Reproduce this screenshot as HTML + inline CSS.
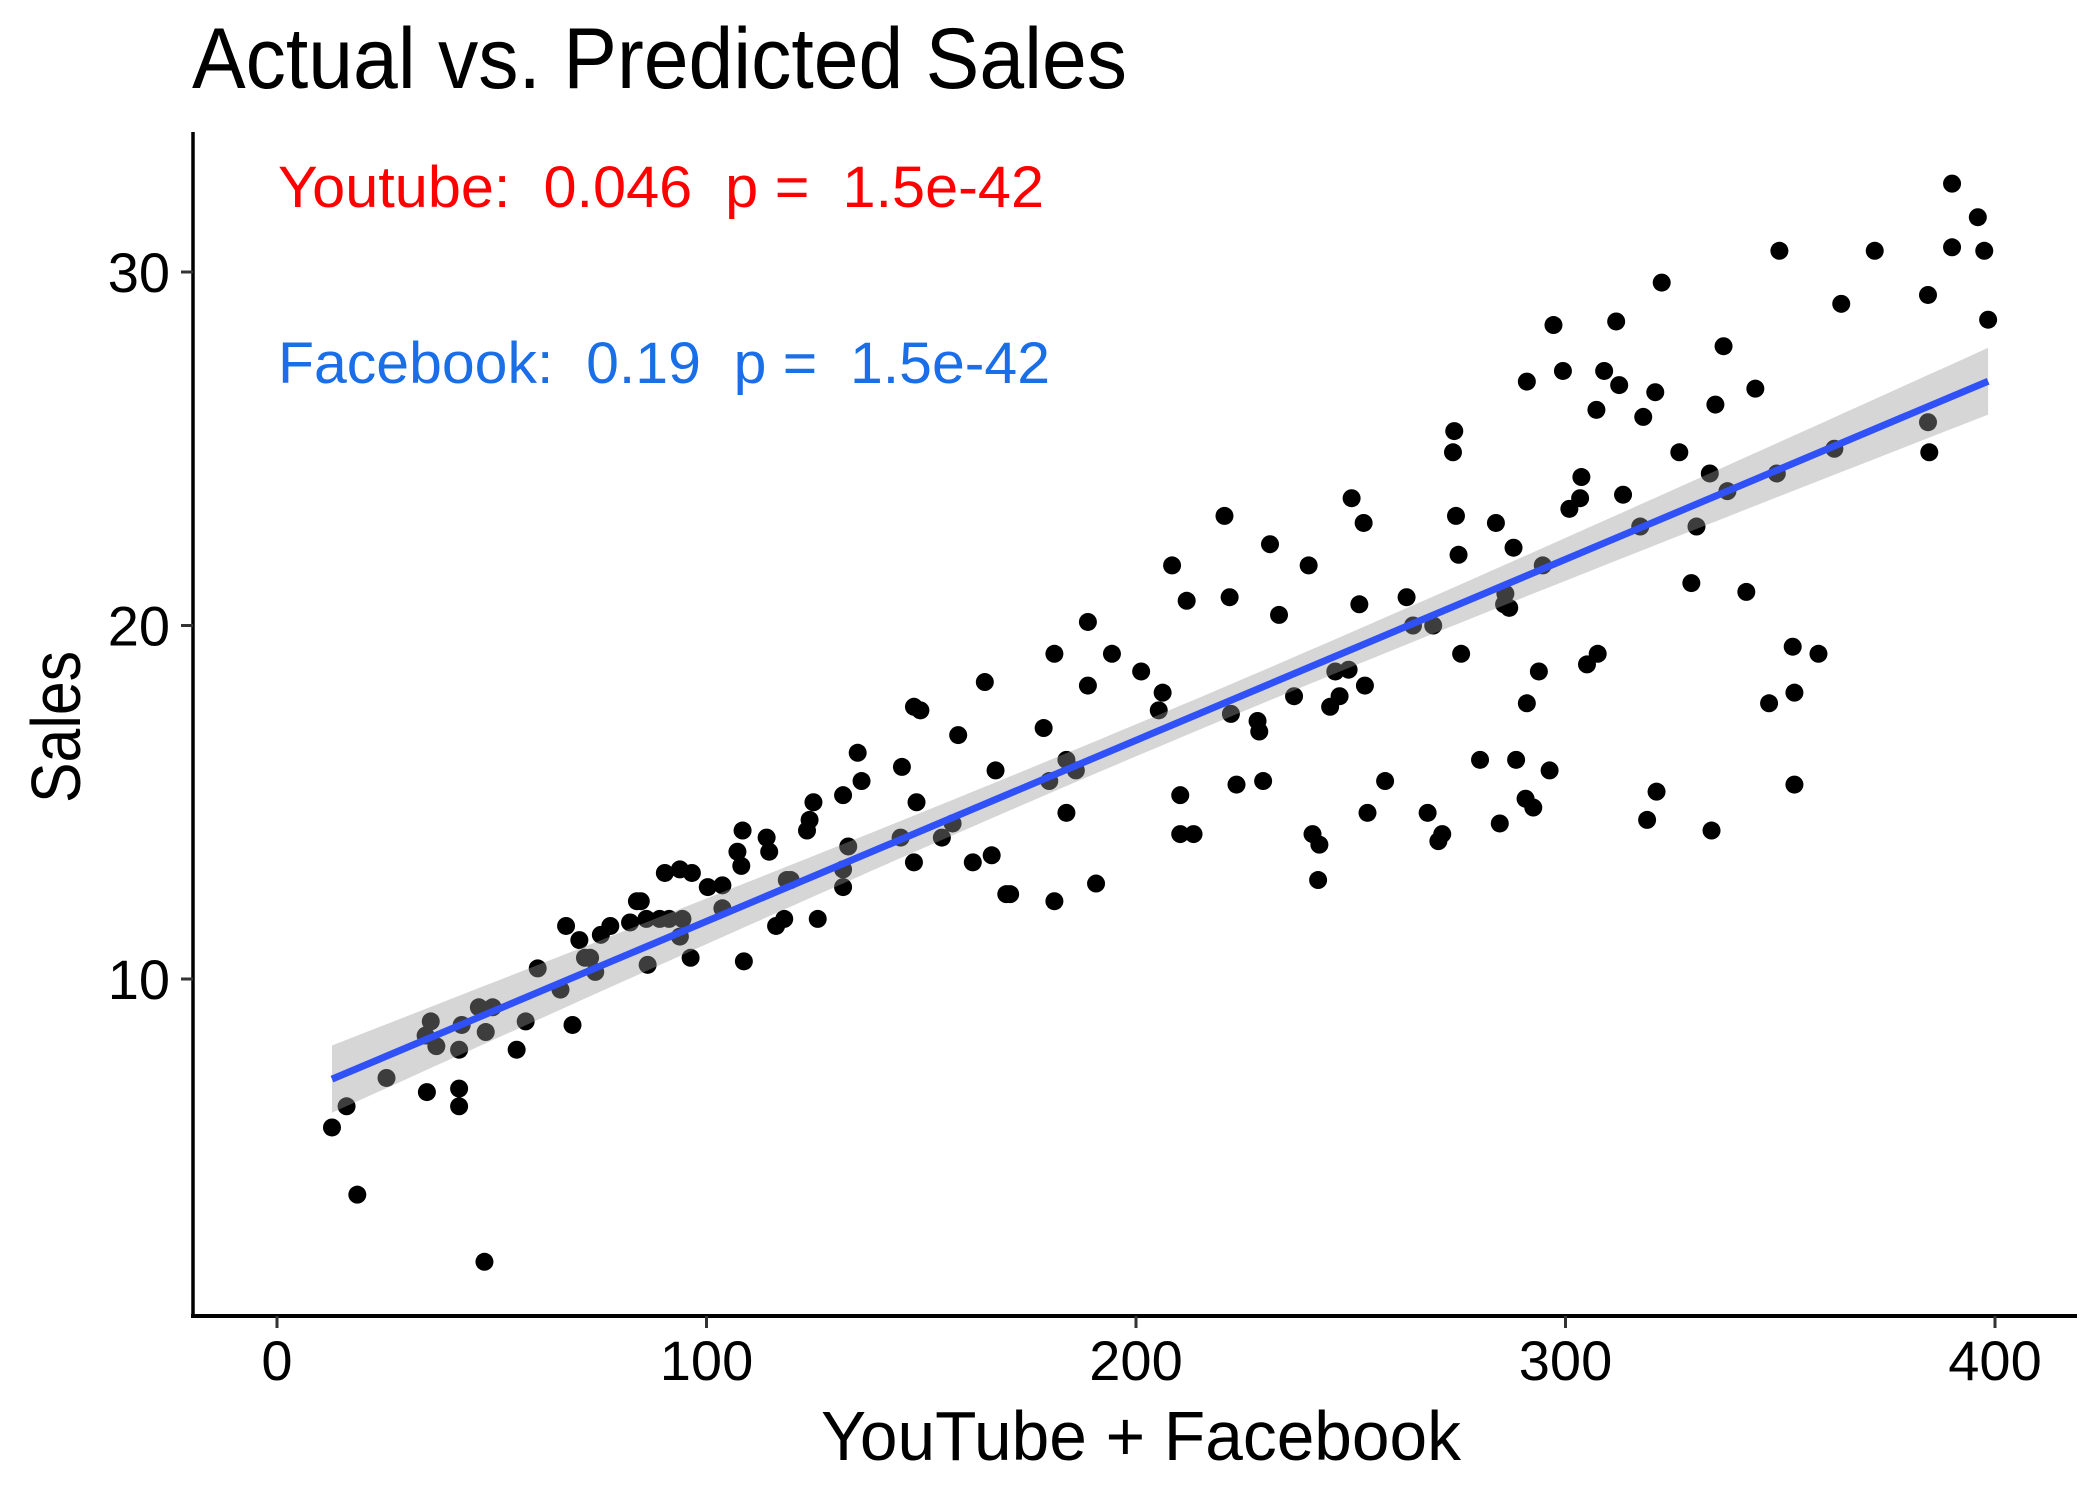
<!DOCTYPE html>
<html><head><meta charset="utf-8"><style>
html,body{margin:0;padding:0;background:#fff;}
svg{display:block;font-family:"Liberation Sans",sans-serif;}
</style></head><body>
<svg id="chart" width="2100" height="1500" viewBox="0 0 2100 1500">
<text x="192" y="88" font-size="86" textLength="935" lengthAdjust="spacingAndGlyphs">Actual vs. Predicted Sales</text>
<g id="plot"></g>
<text x="278" y="207" font-size="58" fill="#ff0000" xml:space="preserve" style="white-space:pre" textLength="766" lengthAdjust="spacingAndGlyphs">Youtube:  0.046  p =  1.5e-42</text>
<text x="278" y="383" font-size="58" fill="#1a6ee8" xml:space="preserve" style="white-space:pre" textLength="772" lengthAdjust="spacingAndGlyphs">Facebook:  0.19  p =  1.5e-42</text>
<text x="1141" y="1460" font-size="70" text-anchor="middle" textLength="640" lengthAdjust="spacingAndGlyphs">YouTube + Facebook</text>
<text transform="translate(80,727) rotate(-90)" font-size="70" text-anchor="middle" textLength="152" lengthAdjust="spacingAndGlyphs">Sales</text>
</svg>
<script>
const xTicks=[0,100,200,300,400];
const yTicks=[10,20,30];
const xVals=[12.8,16.2,18.7,25.5,34.9,34.6,35.8,37.1,42.4,42.4,42.4,43,47,48.6,50.2,48.3,55.8,57.9,60.7,66,67.3,68.8,70.4,71.7,72.9,74.1,75.4,77.6,82.2,83.8,84.7,86,86.3,89.1,90.3,91.3,93.8,93.8,94.4,96.3,96.6,100.3,103.7,103.7,107.2,108.1,108.4,108.7,114,114.6,116.2,118.1,118.7,119.6,123.4,124,124.9,125.9,131.8,131.8,131.8,133,135.2,136.1,145.2,145.5,148.3,148.3,148.9,149.8,154.8,157.3,158.6,162,164.8,166.4,167.3,169.8,170.7,178.5,179.8,181,181,183.8,183.8,186,188.8,188.8,190.7,194.4,201.2,205.3,206.2,208.4,210.3,210.3,211.8,213.4,220.6,221.8,222.1,223.4,228.3,228.7,229.6,231.2,233.3,236.8,240.2,241.1,242.7,242.4,245.2,246.4,247.4,249.5,250.2,252,253,253.3,253.9,258,263,264.5,267.9,269.2,270.4,271.3,273.8,274.1,274.5,275.1,275.7,280.1,283.8,284.7,285.7,286,286.9,287.9,288.5,290.7,291,291,292.5,293.8,294.7,296.3,297.2,299.4,300.9,303.4,303.7,305,307.2,307.5,309,311.8,312.5,313.4,317.4,318.1,319,320.9,321.2,322.4,326.5,329.3,330.5,333.6,334,334.9,336.8,337.7,342.1,344.2,347.4,349.2,349.8,352.9,353.3,353.3,358.9,362.6,364.2,372,384.4,384.4,384.7,390,390,396,397.5,398.4];
const yVals=[5.8,6.4,3.9,7.2,6.8,8.4,8.8,8.1,8.0,6.9,6.4,8.7,9.2,8.5,9.2,2.0,8.0,8.8,10.3,9.7,11.5,8.7,11.1,10.6,10.6,10.2,11.25,11.5,11.6,12.2,12.2,11.7,10.4,11.7,13.0,11.7,13.1,11.2,11.7,10.6,13.0,12.6,12.65,12.0,13.6,13.2,14.2,10.5,14.0,13.6,11.5,11.7,12.8,12.8,14.2,14.5,15.0,11.7,13.1,12.6,15.2,13.75,16.4,15.6,14.0,16.0,17.7,13.3,15.0,17.6,14.0,14.4,16.9,13.3,18.4,13.5,15.9,12.4,12.4,17.1,15.6,19.2,12.2,14.7,16.2,15.9,20.1,18.3,12.7,19.2,18.7,17.6,18.1,21.7,15.2,14.1,20.7,14.1,23.1,20.8,17.5,15.5,17.3,17.0,15.6,22.3,20.3,18.0,21.7,14.1,13.8,12.8,17.7,18.7,18.0,18.75,23.6,20.6,22.9,18.3,14.7,15.6,20.8,20.0,14.7,20.0,13.9,14.1,24.9,25.5,23.1,22.0,19.2,16.2,22.9,14.4,20.6,20.9,20.5,22.2,16.2,15.1,17.8,26.9,14.85,18.7,21.7,15.9,28.5,27.2,23.3,23.6,24.2,18.9,26.1,19.2,27.2,28.6,26.8,23.7,22.8,25.9,14.5,26.6,15.3,29.7,24.9,21.2,22.8,24.3,14.2,26.25,27.9,23.8,20.95,26.7,17.8,24.3,30.6,19.4,18.1,15.5,19.2,25.0,29.1,30.6,29.35,25.75,24.9,32.5,30.7,31.55,30.6,28.65];

const X0=277,X1=1995,YT=272,PXU=35.35,AXY=1316,AXX=193;
const xs=v=>X0+v*(X1-X0)/400;
const ys=v=>YT+(30-v)*PXU;
const NS="http://www.w3.org/2000/svg";
const plot=document.getElementById('plot');
function mk(t,a){const e=document.createElementNS(NS,t);for(const k in a)e.setAttribute(k,a[k]);plot.appendChild(e);return e;}

const n=xVals.length;
const mx=xVals.reduce((a,b)=>a+b,0)/n, my=yVals.reduce((a,b)=>a+b,0)/n;
let sxx=0,sxy=0;for(let i=0;i<n;i++){sxx+=(xVals[i]-mx)**2;sxy+=(xVals[i]-mx)*(yVals[i]-my);}
const b=sxy/sxx,a=my-b*mx;
let sse=0;for(let i=0;i<n;i++)sse+=(yVals[i]-a-b*xVals[i])**2;
const s=Math.sqrt(sse/(n-2));
const xmin=Math.min(...xVals),xmax=Math.max(...xVals);

for(let i=0;i<n;i++){
 const c=mk('circle',{cx:xs(xVals[i]),cy:ys(yVals[i]),r:9,fill:'#000'});
 
 
}
const up=[],lo=[];
for(let k=0;k<=80;k++){const x=xmin+(xmax-xmin)*k/80;const f=a+b*x;const se=1.97*s*Math.sqrt(1/n+(x-mx)**2/sxx);
up.push(xs(x).toFixed(1)+','+ys(f+se).toFixed(1));lo.unshift(xs(x).toFixed(1)+','+ys(f-se).toFixed(1));}
const band=mk('polygon',{points:up.concat(lo).join(' '),fill:'#999999','fill-opacity':0.4});


const line=mk('line',{x1:xs(xmin),y1:ys(a+b*xmin),x2:xs(xmax),y2:ys(a+b*xmax),stroke:'#3050f8','stroke-width':7});



const ya=mk('line',{x1:AXX,y1:132,x2:AXX,y2:AXY+2,stroke:'#000','stroke-width':3.5});


const xa=mk('line',{x1:AXX-2,y1:AXY,x2:2077,y2:AXY,stroke:'#000','stroke-width':4});


xTicks.forEach(t=>{
 const tk=mk('line',{x1:xs(t),y1:AXY,x2:xs(t),y2:AXY+12,stroke:'#333','stroke-width':3});
 
 
 const tx=mk('text',{x:xs(t),y:1380,'font-size':56,'text-anchor':'middle'});
 tx.textContent=t;
 
 
});
yTicks.forEach(t=>{
 const tk=mk('line',{x1:AXX-12,y1:ys(t),x2:AXX,y2:ys(t),stroke:'#333','stroke-width':3});
 
 
 const tx=mk('text',{x:170,y:ys(t)+20,'font-size':56,'text-anchor':'end'});
 tx.textContent=t;
 
 
});
</script>
</body></html>
